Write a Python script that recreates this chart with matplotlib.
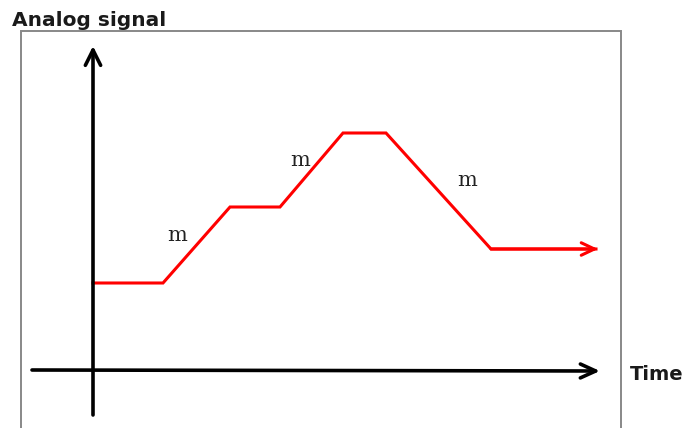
import matplotlib
matplotlib.use("Agg")
import matplotlib.pyplot as plt

# Data (time offsets and signal levels, relative to the origin)
time = [0, 70, 137, 187, 250, 293, 398, 505]
signal = [87, 87, 163, 163, 237, 237, 121, 121]
slope_labels = ["m", "m", "m"]
slope_label_pos = [(84, 135), (207, 210), (374, 190)]
title = "Analog signal"
xlabel = "Time"

W, H = 691, 428
ox, oy = 93, 370  # origin pixel

fig = plt.figure(figsize=(W / 100, H / 100), dpi=100)
ax = fig.add_axes([0, 0, 1, 1])
ax.set_xlim(-ox, W - ox)
ax.set_ylim(-(H - oy), oy)
ax.axis("off")

# frame (gray, no bottom edge)
fx0, fx1, fy0 = 21 - ox, 621 - ox, oy - 31
ax.plot([fx0, fx0, fx1, fx1], [-(H - oy), fy0, fy0, -(H - oy)],
        color="#888888", lw=1.4, solid_joinstyle="miter", clip_on=False)

# axes arrows
ax.annotate("", xy=(507, -1), xytext=(32 - ox, 0),
            arrowprops=dict(arrowstyle="->,head_length=1.1,head_width=0.5",
                            lw=2.6, color="black", shrinkA=0, shrinkB=0))
ax.annotate("", xy=(0, 370 - 46), xytext=(0, -(415 - oy)),
            arrowprops=dict(arrowstyle="->,head_length=1.1,head_width=0.55",
                            lw=2.6, color="black", shrinkA=0, shrinkB=0))

# signal line
ax.plot(time[:-1] + [time[-1] - 2], signal[:-1] + [signal[-1]],
        color="#ff0000", lw=2.2, solid_joinstyle="miter")
ax.annotate("", xy=(time[-1], signal[-1]), xytext=(time[-2], signal[-2]),
            arrowprops=dict(arrowstyle="->,head_length=0.95,head_width=0.45",
                            lw=2.2, color="#ff0000", shrinkA=0, shrinkB=0))

for lab, (x, y) in zip(slope_labels, slope_label_pos):
    ax.text(x, y, lab, fontsize=15, family="DejaVu Serif",
            ha="center", va="center", color="#222222")

fig.text(12 / W, 1 - 20 / H, title, fontsize=14.5, fontweight="bold",
         family="DejaVu Sans", ha="left", va="center", color="#1a1a1a")
fig.text(630 / W, 1 - 374 / H, xlabel, fontsize=14, fontweight="bold",
         family="DejaVu Sans", ha="left", va="center", color="#1a1a1a")

fig.savefig("out.png", dpi=100)
